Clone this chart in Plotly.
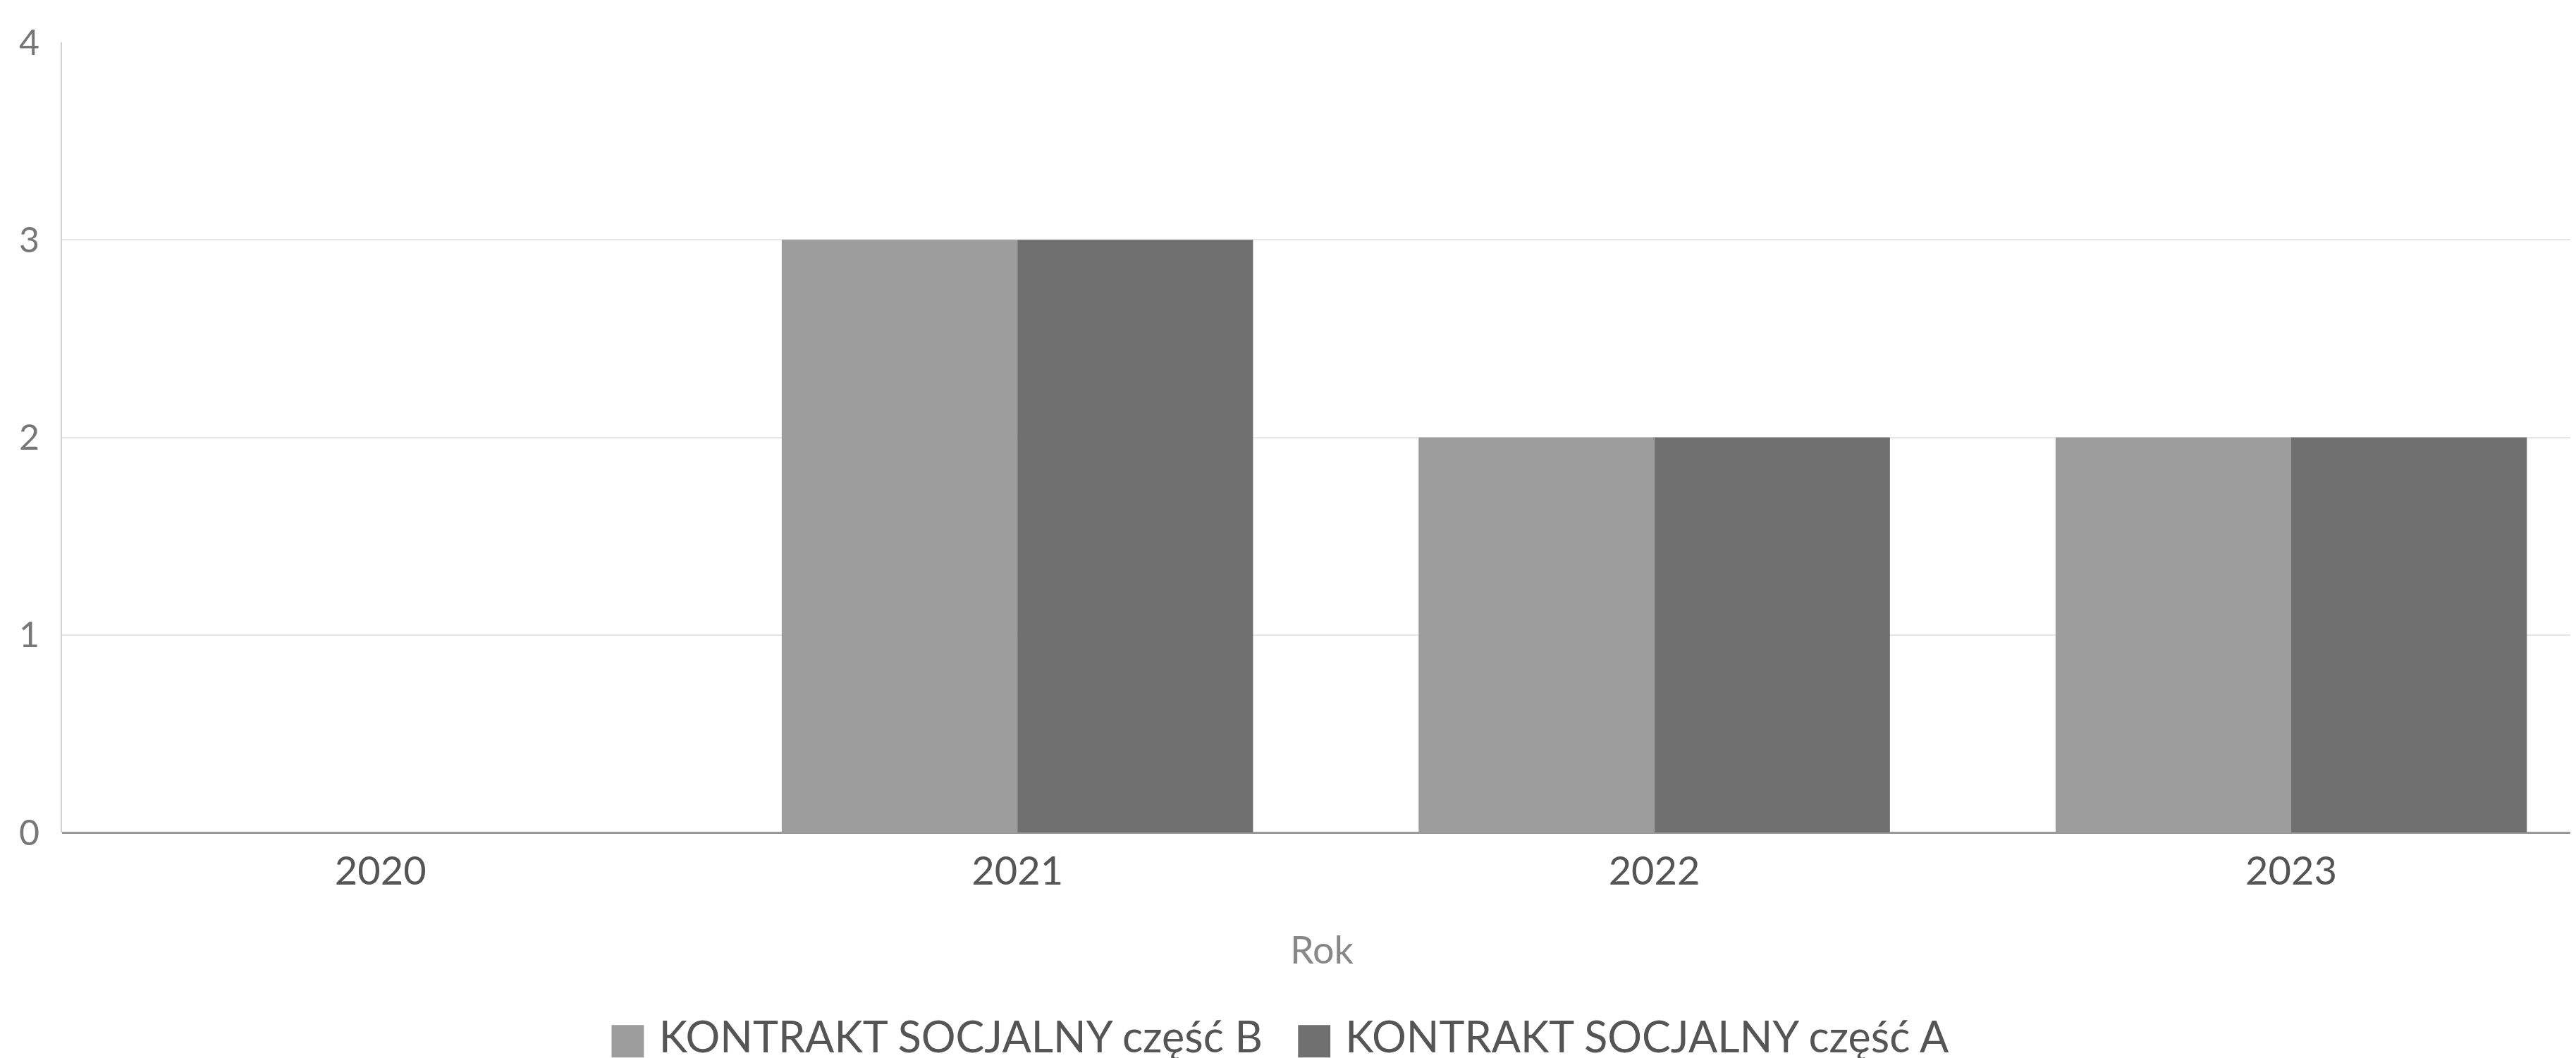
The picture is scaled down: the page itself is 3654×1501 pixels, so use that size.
import plotly.graph_objects as go

years = ["2020", "2021", "2022", "2023"]
series_b_name = "KONTRAKT SOCJALNY część B"
series_a_name = "KONTRAKT SOCJALNY część A"
values_b = [0, 3, 2, 2]
values_a = [0, 3, 2, 2]
y_ticks = [0, 1, 2, 3, 4]
color_b = "#9c9c9c"
color_a = "#707070"

fig = go.Figure()
fig.add_trace(go.Bar(x=years, y=values_b, name=series_b_name, showlegend=False,
                     marker=dict(color=color_b, line=dict(width=0))))
fig.add_trace(go.Bar(x=years, y=values_a, name=series_a_name, showlegend=False,
                     marker=dict(color=color_a, line=dict(width=0))))
# legend entries: large square glyph coloured as the series
for nm, col in [(series_b_name, color_b), (series_a_name, color_a)]:
    label = f"<span style='color:{col};font-family:DejaVu Sans;font-size:60px'>■</span> {nm}"
    fig.add_trace(go.Scatter(x=[None], y=[None], mode="markers", name=label,
                             marker=dict(symbol="square", size=1, color="rgba(0,0,0,0)")))

font_family = "Lato, 'Open Sans', sans-serif"
fig.update_layout(
    width=3654, height=1501,
    barmode="group", bargap=0.26, bargroupgap=0,
    plot_bgcolor="white", paper_bgcolor="white",
    margin=dict(l=80, r=0, t=52, b=328),
    font=dict(family=font_family, color="#666666", size=44),
    legend=dict(orientation="h", x=0.478, xanchor="center", xref="paper",
                y=0.026, yanchor="middle", yref="container",
                font=dict(size=61, color="#555555"), itemwidth=30,
                traceorder="normal", tracegroupgap=0),
    showlegend=True,
)
fig.update_xaxes(
    type="category", range=[-0.5, 3.456],
    showgrid=False, showline=False, ticks="",
    tickfont=dict(size=56, color="#555555"), ticklabelstandoff=17,
    title=dict(text="Rok", font=dict(size=54, color="#888888"), standoff=63),
)
fig.update_yaxes(
    range=[0, 4], tickvals=y_ticks, showgrid=True, gridcolor="#e6e6e6", gridwidth=2,
    zeroline=True, zerolinecolor="#9a9a9a", zerolinewidth=3,
    showline=True, linecolor="#d0d0d0", linewidth=2,
    ticks="", tickfont=dict(size=50, color="#777777"), ticklabelstandoff=20,
)

fig.write_html("out.html")
